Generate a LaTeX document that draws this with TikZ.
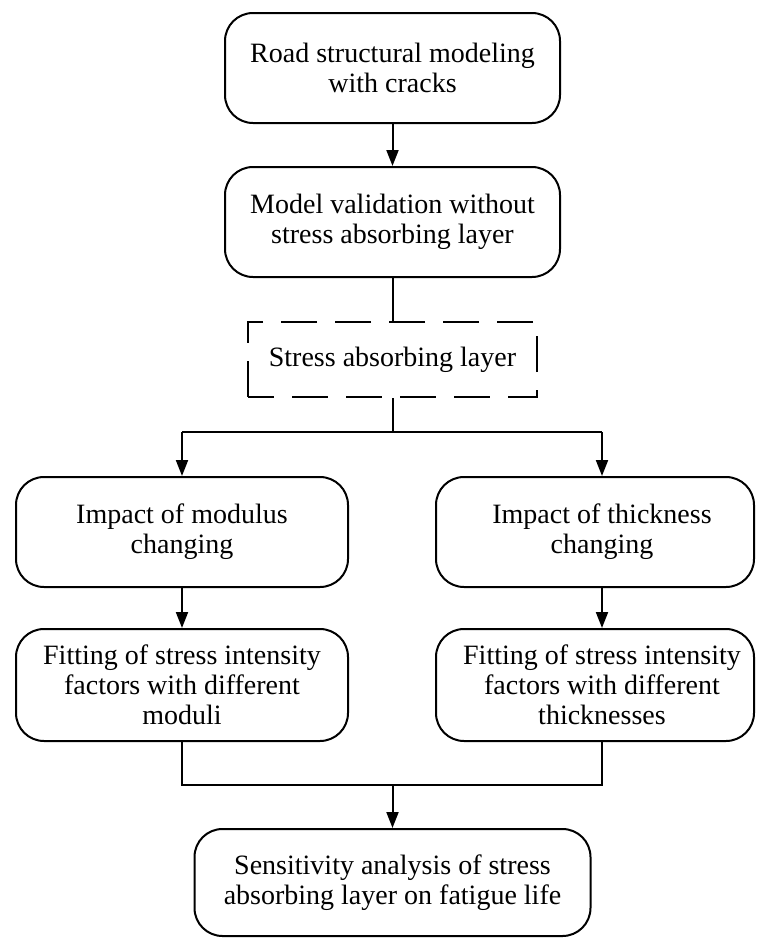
\documentclass[tikz,border=0pt]{standalone}
\usepackage{fontspec}
\setmainfont{Liberation Serif}
\usetikzlibrary{arrows.meta}
\begin{document}
\begin{tikzpicture}[x=1pt,y=-1pt,
  every node/.style={font=\fontsize{28}{30}\selectfont},
  box/.style={draw, line width=2pt, rounded corners=28pt, align=center, inner sep=0pt},
  dbox/.style={draw, line width=2pt, dash pattern=on 36pt off 18pt, dash phase=10pt, align=center, inner sep=0pt},
  txt/.style={align=center, inner sep=0pt},
  conn/.style={line width=2pt},
  arr/.style={conn, -{Triangle[length=16pt,width=12pt]}}]
\useasboundingbox (0,0) rectangle (756,938);
\node[box, minimum width=335, minimum height=110] (b1) at (392.5,68) {Road structural modeling\\with cracks};
\node[box, minimum width=335, minimum height=110] (b2) at (392.5,222) {Model validation without\\stress absorbing layer};
\node[dbox, minimum width=289, minimum height=75] (d) at (392.5,359.5) {Stress absorbing layer};
\coordinate (split) at (392.5,432);
\coordinate (splitL) at (182,432);
\coordinate (splitR) at (602,432);
\node[box, minimum width=332, minimum height=110] (l1) at (182,532) {Impact of modulus\\changing};
\node[box, minimum width=318, minimum height=110] (r1) at (595,532) {};
\node[txt] (r1t) at (602,532) {Impact of thickness\\changing};
\node[box, minimum width=332, minimum height=112] (l2) at (182,685) {Fitting of stress intensity\\factors with different\\moduli};
\node[box, minimum width=318, minimum height=112] (r2) at (595,685) {};
\node[txt] (r2t) at (602,685) {Fitting of stress intensity\\factors with different\\thicknesses};
\coordinate (merge) at (392.5,785);
\node[box, minimum width=396, minimum height=107] (b3) at (392.5,882.5) {Sensitivity analysis of stress\\absorbing layer on fatigue life};
\draw[arr] (b1.south) -- (b2.north);
\draw[conn] (b2.south) -- (d.north);
\draw[conn] (d.south) -- (split);
\draw[conn] (splitL) -- (splitR);
\draw[arr] (splitL) -- (l1.north);
\draw[arr] (splitR) -- (splitR |- r1.north);
\draw[arr] (l1.south) -- (l2.north);
\draw[arr] (r1t |- r1.south) -- (r1t |- r2.north);
\draw[conn] (l2.south) |- (merge) -| (r2t |- r2.south);
\draw[arr] (merge) -- (b3.north);
\end{tikzpicture}
\end{document}
